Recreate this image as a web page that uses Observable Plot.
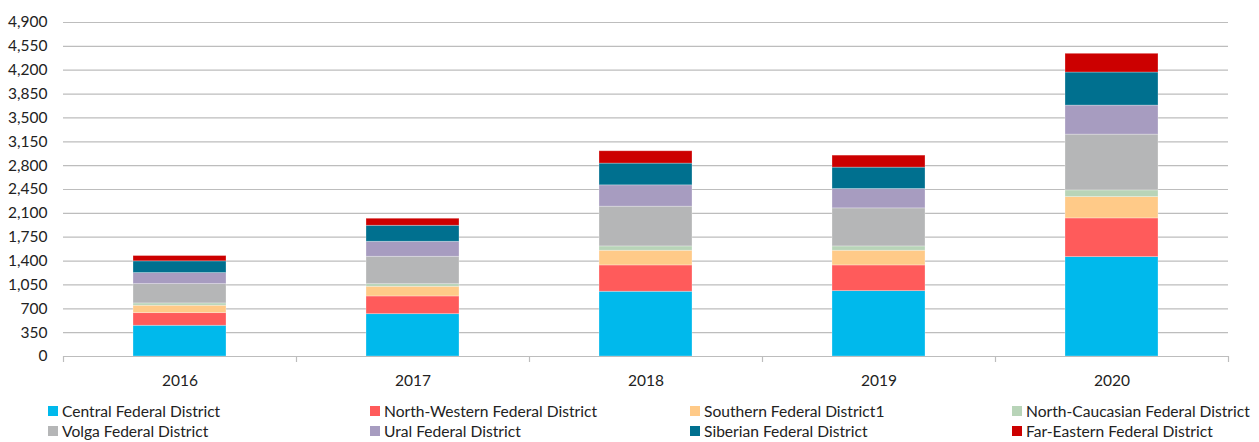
<!DOCTYPE html>
<html>
<head>
<meta charset="utf-8">
<script src="https://cdn.jsdelivr.net/npm/d3@7"></script>
<script src="https://cdn.jsdelivr.net/npm/@observablehq/plot@0.6"></script>
<style>
  html, body { margin: 0; padding: 0; background: #fff; }
  body { width: 1259px; height: 442px; overflow: hidden; font-family: Lato, "Open Sans", sans-serif; }
  #legend { position: relative; width: 1259px; height: 47px; }
  .item { position: absolute; display: flex; align-items: center; font-size: 15.6px; color: #222; white-space: nowrap; }
  .sw { width: 10px; height: 10px; margin-right: 4px; display: inline-block; }
</style>
</head>
<body>
<div id="chart"></div>
<div id="legend"></div>
<script>
const years = ["2016", "2017", "2018", "2019", "2020"];
const districts = [
  "Central Federal District",
  "North-Western Federal District",
  "Southern Federal District1",
  "North-Caucasian Federal District",
  "Volga Federal District",
  "Ural Federal District",
  "Siberian Federal District",
  "Far-Eastern Federal District"
];
const colors = ["#00b9ec", "#ff5b5b", "#ffca88", "#b8d4b8", "#b5b6b7", "#a79cc0", "#00708f", "#cc0000"];

// values per district, by year (2016..2020)
const central      = [451, 621, 950, 959, 1458];
const northWestern = [185, 260, 386, 377, 568];
const southern     = [109, 142, 216, 216, 313];
const northCauc    = [34, 38, 63, 63, 98];
const volga        = [283, 402, 583, 558, 818];
const ural         = [162, 220, 313, 284, 426];
const siberian     = [172, 235, 319, 314, 485];
const farEastern   = [78, 103, 181, 176, 275];

const yTicks = d3.range(0, 4901, 350);

const series = [central, northWestern, southern, northCauc, volga, ural, siberian, farEastern];
const data = [];
districts.forEach((d, i) => years.forEach((y, j) => data.push({year: y, district: d, value: series[i][j]})));

const step = (1259 - 63 - 31) / years.length;

const chart = Plot.plot({
  width: 1259,
  height: 395,
  marginTop: 22,
  marginBottom: 39,
  marginLeft: 63,
  marginRight: 31,
  style: {fontFamily: "Lato, 'Open Sans', sans-serif", fontSize: "15.5px", color: "#222", background: "#fff"},
  x: {domain: years, paddingInner: 0.6, paddingOuter: 0.3, label: null},
  y: {domain: [0, 4900], label: null},
  color: {domain: districts, range: colors},
  marks: [
    Plot.gridY(yTicks, {stroke: "#bdbdbd", strokeOpacity: 1, strokeWidth: 1.2}),
    Plot.barY(data, {x: "year", y: "value", fill: "district", order: districts, stroke: "#fff", strokeOpacity: 0.35, strokeWidth: 0.8}),
    Plot.ruleY([0], {stroke: "#bdbdbd", strokeWidth: 1.2}),
    Plot.ruleX(years, {x: d => d, y1: 0, y2: 0, dx: -step / 2, insetBottom: -6, stroke: "#bdbdbd", strokeWidth: 1.2}),
    Plot.ruleX(years.slice(-1), {x: d => d, y1: 0, y2: 0, dx: step / 2, insetBottom: -6, stroke: "#bdbdbd", strokeWidth: 1.2}),
    Plot.axisY(yTicks, {tickSize: 0, tickPadding: 16, tickFormat: d3.format(","), label: null, fill: "#222"}),
    Plot.axisX({tickSize: 0, tickPadding: 18, label: null, fill: "#222"})
  ]
});
document.getElementById("chart").appendChild(chart);

const legend = document.getElementById("legend");
const colX = [48, 370, 690, 1012];
const rowY = [7, 27];
districts.forEach((name, k) => {
  const row = Math.floor(k / 4), col = k % 4;
  const el = document.createElement("div");
  el.className = "item";
  el.style.left = colX[col] + "px";
  el.style.top = rowY[row] + "px";
  el.innerHTML = `<span class="sw" style="background:${colors[k]}"></span><span>${name}</span>`;
  legend.appendChild(el);
});
</script>
</body>
</html>
